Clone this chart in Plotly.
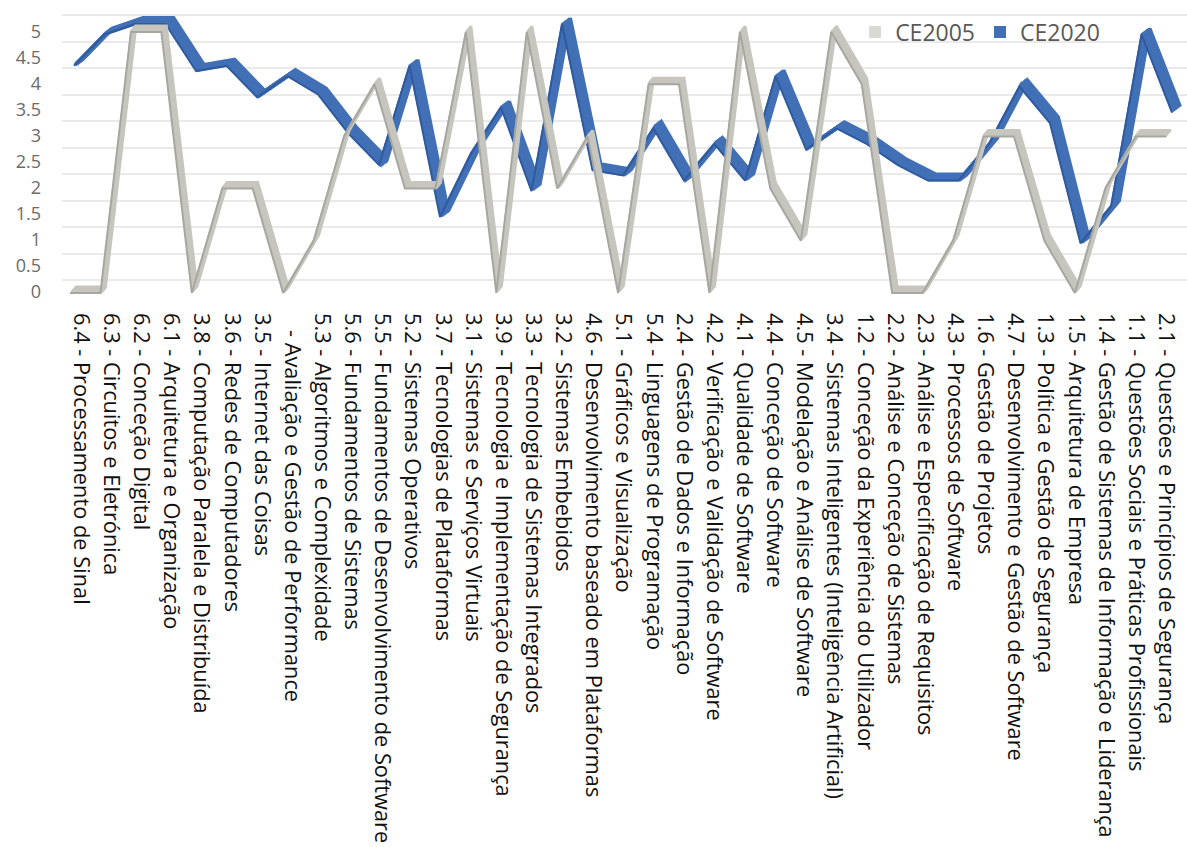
import plotly.graph_objects as go

categories = [
    "6.4 - Processamento de Sinal",
    "6.3 - Circuitos e Eletrónica",
    "6.2 - Conceção Digital",
    "6.1 - Arquitetura e Organização",
    "3.8 - Computação Paralela e Distribuída",
    "3.6 - Redes de Computadores",
    "3.5 - Internet das Coisas",
    "\u00a0\u00a0\u00a0- Avaliação e Gestão de Performance",
    "5.3 - Algoritmos e Complexidade",
    "5.6 - Fundamentos de Sistemas",
    "5.5 - Fundamentos de Desenvolvimento de Software",
    "5.2 - Sistemas Operativos",
    "3.7 - Tecnologias de Plataformas",
    "3.1 - Sistemas e Serviços Virtuais",
    "3.9 - Tecnologia e Implementação de Segurança",
    "3.3 - Tecnologia de Sistemas Integrados",
    "3.2 - Sistemas Embebidos",
    "4.6 - Desenvolvimento baseado em Plataformas",
    "5.1 - Gráficos e Visualização",
    "5.4 - Linguagens de Programação",
    "2.4 - Gestão de Dados e Informação",
    "4.2 - Verificação e Validação de Software",
    "4.1 - Qualidade de Software",
    "4.4 - Conceção de Software",
    "4.5 - Modelação e Análise de Software",
    "3.4 - Sistemas Inteligentes (Inteligência Artificial)",
    "1.2 - Conceção da Experiência do Utilizador",
    "2.2 - Análise e Conceção de Sistemas",
    "2.3 - Análise e Especificação de Requisitos",
    "4.3 - Processos de Software",
    "1.6 - Gestão de Projetos",
    "4.7 - Desenvolvimento e Gestão de Software",
    "1.3 - Política e Gestão de Segurança",
    "1.5 - Arquitetura de Empresa",
    "1.4 - Gestão de Sistemas de Informação e Liderança",
    "1.1 - Questões Sociais e Práticas Profissionais",
    "2.1 - Questões e Princípios de Segurança",
]

ce2005 = [0, 0, 5, 5, 0, 2, 2, 0, 1, 3, 4, 2, 2, 5, 0, 5, 2, 3, 0, 4,
          4, 0, 5, 2, 1, 5, 4, 0, 0, 1, 3, 3, 1, 0, 2, 3, 3]

ce2020 = [4.2, 4.8, 5.0, 5.0, 4.1, 4.2, 3.6, 4.0, 3.65, 2.9, 2.3, 4.2, 1.3, 2.5,
          3.4, 1.8, 5.0, 2.2, 2.1, 3.0, 2.0, 2.7, 2.0, 4.0, 2.6, 3.0, 2.7, 2.3,
          2.0, 2.0, 2.7, 3.8, 3.1, 0.8, 1.5, 4.8, 3.3]

y_ticks = [0, 0.5, 1, 1.5, 2, 2.5, 3, 3.5, 4, 4.5, 5]
y_tick_text = ["0", "0.5", "1", "1.5", "2", "2.5", "3", "3.5", "4", "4.5", "5"]

GREY = "#C6C6BF"
GREY_EDGE = "#A7A7A1"
BLUE = "#4270B6"
BLUE_EDGE = "#2F5A9C"

W, H = 1187, 847
L, R, T, B = 62, 1187, 0, 300

xi = list(range(len(categories)))


def xrange_for(a, b):
    """x axis range so that index i lands at pixel a + b*i."""
    return [(L - a) / b, (R - a) / b]


def yrange_for(a, b):
    """y axis range so that value v lands at pixel a - b*v."""
    return [(a - B) / b, (a - T) / b]


fig = go.Figure()
axes = {}
hidden = dict(visible=False, showgrid=False, zeroline=False, domain=[0, 1])
n_axes = [10]

# back wall gridlines (first overlay, drawn behind the series)
axes["xaxis10"] = dict(range=[0, 1], anchor="y10", overlaying="x", **hidden)
axes["yaxis10"] = dict(range=yrange_for(280, 53), anchor="x10", overlaying="y",
                       domain=[0, 1], visible=True, showticklabels=False, ticks="",
                       tickmode="array", tickvals=y_ticks, showgrid=True,
                       gridcolor="#EAEAEA", gridwidth=2, zeroline=False, showline=False)
fig.add_trace(go.Scatter(x=[None], y=[None], xaxis="x10", yaxis="y10",
                         showlegend=False, hoverinfo="skip"))


def new_axes(xa, xb, ya, yb):
    n_axes[0] += 1
    k = n_axes[0]
    axes["xaxis%d" % k] = dict(range=xrange_for(xa, xb), anchor="y%d" % k,
                              overlaying="x", **hidden)
    axes["yaxis%d" % k] = dict(range=yrange_for(ya, yb), anchor="x%d" % k,
                              overlaying="y", **hidden)
    return "x%d" % k, "y%d" % k


def ribbon(values, name, x0, xs, y0, ys, ddx, ddy, color, edge, z0, steps=5, width=3.5):
    # sweep from back edge to front edge
    for s in range(steps, -1, -1):
        f = s / steps
        xa, ya = new_axes(x0 + ddx * f, xs, y0 - ddy * f, ys)
        front = (s == 0)
        fig.add_trace(go.Scatter(
            x=xi, y=values, mode="lines", xaxis=xa, yaxis=ya, name=name,
            zorder=z0 + (steps - s),
            line=dict(color=edge if front else color, width=2 if front else width),
            showlegend=False, hoverinfo="skip" if not front else None))


# back series CE2020 (further from viewer)
ribbon(ce2020, "CE2020", 74, 30.5, 285, 52.2, 8, 6, BLUE, BLUE_EDGE, 0, steps=6, width=4)
# front series CE2005
ribbon(ce2005, "CE2005", 70, 30.45, 293, 52.2, 5, 6, GREY, GREY_EDGE, 20, steps=5, width=3)

# legend entries (square swatches)
fig.add_trace(go.Scatter(x=[None], y=[None], mode="markers", name="CE2005",
                         marker=dict(symbol="square", size=15, color="#DADAD5")))
fig.add_trace(go.Scatter(x=[None], y=[None], mode="markers", name="CE2020",
                         marker=dict(symbol="square", size=15, color=BLUE)))

fig.update_layout(
    width=W, height=H,
    margin=dict(l=L, r=W - R, t=T, b=H - B),
    paper_bgcolor="white", plot_bgcolor="rgba(0,0,0,0)",
    font=dict(family="'Open Sans', Lato, sans-serif", color="#000"),
    # category labels (front of floor)
    xaxis=dict(domain=[0, 1], range=xrange_for(81, 30.14), tickmode="array",
               tickvals=xi, ticktext=categories, tickangle=90,
               tickfont=dict(size=21.8, color="#111"), showgrid=False,
               zeroline=False, showline=False, ticks="", ticklabelstandoff=12),
    # value labels (front)
    yaxis=dict(domain=[0, 1], range=yrange_for(292, 52), tickmode="array",
               tickvals=y_ticks, ticktext=y_tick_text,
               tickfont=dict(size=18, color="#6B6B6B"), showgrid=False,
               zeroline=False, showline=False, ticks="", ticklabelstandoff=20),
    legend=dict(orientation="h", x=0.705, y=0.965, xanchor="left", yanchor="top",
                font=dict(size=23, color="#595959"), bgcolor="rgba(0,0,0,0)",
                itemsizing="constant", tracegroupgap=0),
    showlegend=True,
)
fig.update_layout(**axes)

fig.write_html("out.html")
